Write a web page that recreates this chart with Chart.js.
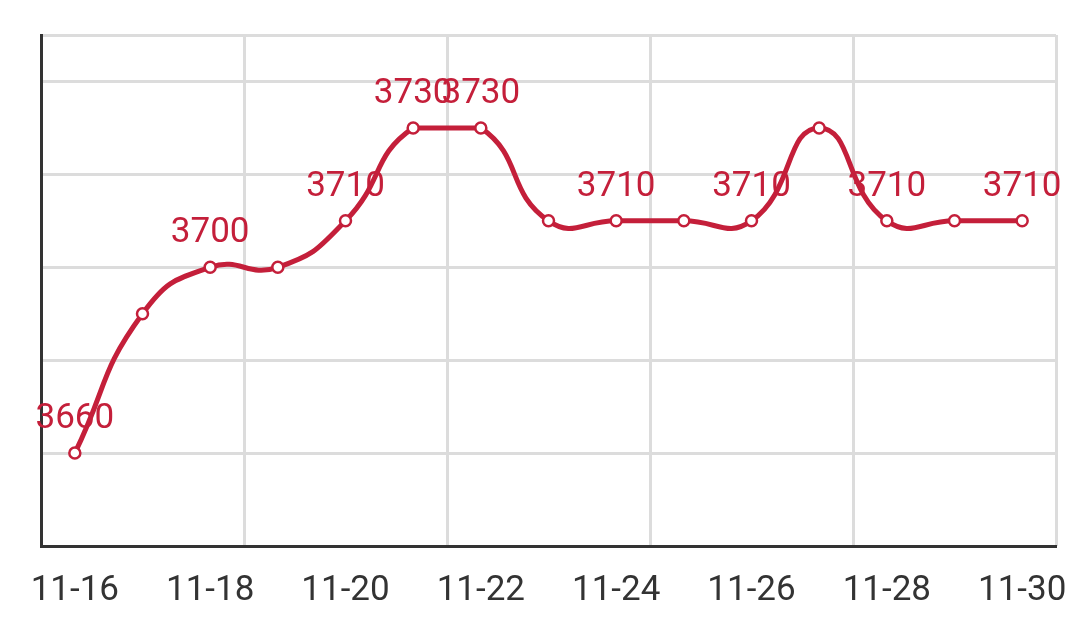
<!DOCTYPE html>
<html>
<head>
<meta charset="utf-8">
<script src="https://cdn.jsdelivr.net/npm/chart.js@4"></script>
<style>
  html, body { margin: 0; padding: 0; background: #fff; }
  #wrap { width: 1076px; height: 630px; }
</style>
</head>
<body>
<div id="wrap"><canvas id="priceChart" width="1076" height="630"></canvas></div>
<script>
// chart data
const days = ['11-16', '11-17', '11-18', '11-19', '11-20', '11-21', '11-22', '11-23',
              '11-24', '11-25', '11-26', '11-27', '11-28', '11-29', '11-30'];
const prices = [3660, 3690, 3700, 3700, 3710, 3730, 3730, 3710,
                3710, 3710, 3710, 3730, 3710, 3710, 3710];
// which points carry a value label
const labelledPoints = [0, 2, 4, 5, 6, 8, 10, 12, 14];

const red = '#c41f3a';

// keep the curve's control points inside the data range (no overshoot above the max)
const clampCurve = {
  id: 'clampCurve',
  beforeDatasetsDraw(chart) {
    const meta = chart.getDatasetMeta(0);
    const y = chart.scales.y;
    const top = y.getPixelForValue(Math.max(...prices));
    const bottom = y.getPixelForValue(Math.min(...prices));
    meta.dataset.updateControlPoints(chart.chartArea, 'x');
    meta.data.forEach(pt => {
      pt.cp1y = Math.min(Math.max(pt.cp1y, top), bottom);
      pt.cp2y = Math.min(Math.max(pt.cp2y, top), bottom);
    });
  }
};

// value labels above the points
const valueLabels = {
  id: 'valueLabels',
  afterDatasetsDraw(chart) {
    const ctx = chart.ctx;
    const meta = chart.getDatasetMeta(0);
    ctx.save();
    ctx.font = '35px Roboto';
    ctx.fillStyle = red;
    ctx.textAlign = 'center';
    ctx.textBaseline = 'middle';
    labelledPoints.forEach(i => {
      const pt = meta.data[i];
      ctx.fillText(String(prices[i]), pt.x, pt.y - 34);
    });
    ctx.restore();
  }
};

new Chart(document.getElementById('priceChart').getContext('2d'), {
  type: 'line',
  data: {
    labels: days,
    datasets: [{
      data: prices,
      xAxisID: 'x',
      borderColor: red,
      borderWidth: 5,
      tension: 0.5,
      pointRadius: 5.5,
      pointBorderWidth: 2.5,
      pointBackgroundColor: '#fff',
      pointBorderColor: red,
      clip: false
    }]
  },
  options: {
    responsive: false,
    animation: false,
    layout: { padding: { top: 35, left: 41, right: 20, bottom: 18 } },
    plugins: {
      legend: { display: false },
      tooltip: { enabled: false }
    },
    scales: {
      x: {
        type: 'category',
        offset: true,
        grid: { color: 'rgba(0,0,0,0)', drawTicks: true, tickLength: 24 },
        border: { color: '#333', width: 3 },
        ticks: {
          autoSkip: false,
          maxRotation: 0,
          padding: 0,
          color: '#333',
          font: { family: 'Roboto', size: 35 },
          callback: (v, i) => (i % 2 === 0 ? days[i] : '')
        }
      },
      // vertical split lines, one every three days
      xGrid: {
        type: 'linear',
        position: 'bottom',
        min: 0,
        max: days.length,
        ticks: { display: false, stepSize: 3 },
        grid: { color: '#dcdcdc', lineWidth: 3, drawTicks: false },
        border: { display: false }
      },
      y: {
        min: 3640,
        max: 3750,
        ticks: { display: false, stepSize: 20 },
        grid: { color: '#dcdcdc', lineWidth: 3, drawTicks: false },
        border: { color: '#333', width: 3 }
      }
    }
  },
  plugins: [clampCurve, valueLabels]
});
</script>
</body>
</html>
